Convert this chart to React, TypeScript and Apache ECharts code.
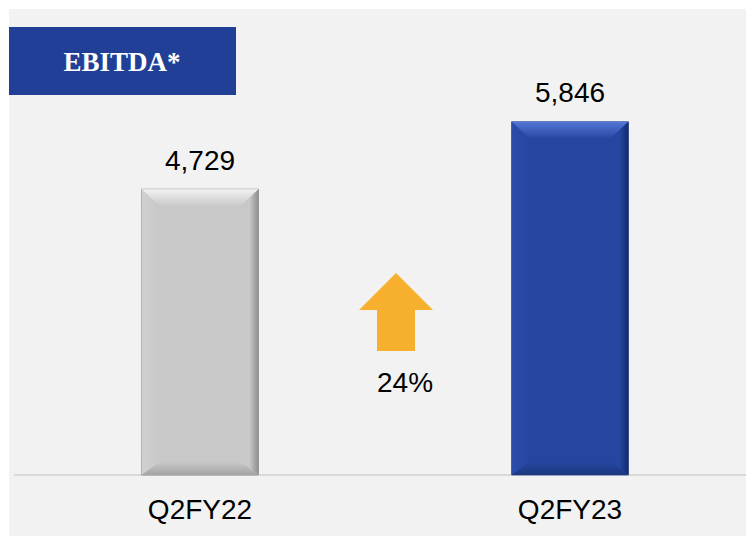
import React, { useEffect, useRef } from "react";
import * as echarts from "echarts";

const categories = ["Q2FY22", "Q2FY23"];
const values = [4729, 5846];
const growthLabel = "24%";
const titleText = "EBITDA*";

const palettes = [
  { face: "#c8c8c8", top: "#f2f2f2", left: "#d0d0d0", right: "#8e8e8e", bottom: "#a4a4a4", edge: "#9a9a9a" },
  { face: "#2546a0", top: "#5676d6", left: "#2b4cab", right: "#14296c", bottom: "#1c377f", edge: "#5a6ea8" },
];

export default function App() {
  const ref = useRef<HTMLDivElement>(null);
  useEffect(() => {
    if (!ref.current) return;
    const chart = echarts.init(ref.current, undefined, { renderer: "svg" });
    const font = "'Liberation Sans', Arial, sans-serif";
    chart.setOption({
      animation: false,
      backgroundColor: "#ffffff",
      grid: { left: 15, width: 740, top: 52, bottom: 61, outerBoundsMode: "none", containLabel: false },
      xAxis: {
        type: "category",
        data: categories,
        axisLine: { show: true, lineStyle: { color: "#d9d9d9", width: 2 } },
        axisTick: { show: false },
        axisLabel: { color: "#000", fontSize: 28, fontFamily: font, margin: 20 },
        splitLine: { show: false },
      },
      yAxis: { type: "value", min: 0, max: 7000, show: false, splitLine: { show: false } },
      graphic: [
        { type: "rect", z: -10, shape: { x: 9, y: 9, width: 737, height: 527 }, style: { fill: "#f2f2f2" } },
        { type: "rect", z: 5, shape: { x: 9, y: 27, width: 227, height: 68 }, style: { fill: "#213f96" } },
        {
          type: "text", z: 6, x: 122, y: 62,
          style: { text: titleText, fill: "#ffffff", font: "bold 27px 'Liberation Serif', serif", align: "center", verticalAlign: "middle" },
        },
        {
          type: "polygon", z: 5,
          shape: { points: [[396, 273], [433, 310], [415, 310], [415, 351], [377, 351], [377, 310], [359, 310]] },
          style: { fill: "#f6b02e" },
        },
        {
          type: "text", z: 6, x: 405, y: 382,
          style: { text: growthLabel, fill: "#000", font: "28px 'Liberation Sans', Arial, sans-serif", align: "center", verticalAlign: "middle" },
        },
      ],
      series: [
        {
          type: "custom",
          data: values.map((v, i) => [i, v]),
          renderItem: (params: any, api: any) => {
            const idx = api.value(0);
            const val = api.value(1);
            const topPt = api.coord([idx, val]);
            const basePt = api.coord([idx, 0]);
            const band = api.size([1, 0])[0];
            const w = band * 0.316;
            const x0 = topPt[0] - w / 2;
            const x1 = topPt[0] + w / 2;
            const y0 = topPt[1];
            const y1 = basePt[1];
            const p = palettes[params.dataIndex % palettes.length];
            const bt = 17, bs = 18, bb = 13;
            const label = val.toLocaleString("en-US");
            return {
              type: "group",
              children: [
                { type: "rect", shape: { x: x0, y: y0, width: w, height: y1 - y0 }, style: { fill: p.face, stroke: p.edge, lineWidth: 1 } },
                {
                  type: "polygon",
                  shape: { points: [[x0, y0], [x1, y0], [x1 - bs, y0 + bt], [x0 + bs, y0 + bt]] },
                  style: {
                    fill: new echarts.graphic.LinearGradient(0, 0, 0, 1, [
                      { offset: 0, color: p.top },
                      { offset: 1, color: p.face },
                    ]),
                  },
                },
                {
                  type: "polygon",
                  shape: { points: [[x0, y0], [x0 + bs, y0 + bt], [x0 + bs, y1 - bb], [x0, y1]] },
                  style: {
                    fill: new echarts.graphic.LinearGradient(0, 0, 1, 0, [
                      { offset: 0, color: p.left },
                      { offset: 1, color: p.face },
                    ]),
                  },
                },
                {
                  type: "polygon",
                  shape: { points: [[x1, y0], [x1, y1], [x1 - bs, y1 - bb], [x1 - bs, y0 + bt]] },
                  style: {
                    fill: new echarts.graphic.LinearGradient(0, 0, 1, 0, [
                      { offset: 0, color: p.face },
                      { offset: 0.5, color: p.face },
                      { offset: 1, color: p.right },
                    ]),
                  },
                },
                {
                  type: "polygon",
                  shape: { points: [[x0, y1], [x0 + bs, y1 - bb], [x1 - bs, y1 - bb], [x1, y1]] },
                  style: {
                    fill: new echarts.graphic.LinearGradient(0, 0, 0, 1, [
                      { offset: 0, color: p.face },
                      { offset: 1, color: p.bottom },
                    ]),
                  },
                },
                {
                  type: "text",
                  x: topPt[0], y: y0 - 15,
                  style: { text: label, fill: "#000", font: "28px 'Liberation Sans', Arial, sans-serif", align: "center", verticalAlign: "bottom" },
                },
              ],
            };
          },
        },
      ],
    });
    return () => chart.dispose();
  }, []);
  return <div ref={ref} style={{ position: "fixed", left: 0, top: 0, width: 746, height: 536 }} />;
}
